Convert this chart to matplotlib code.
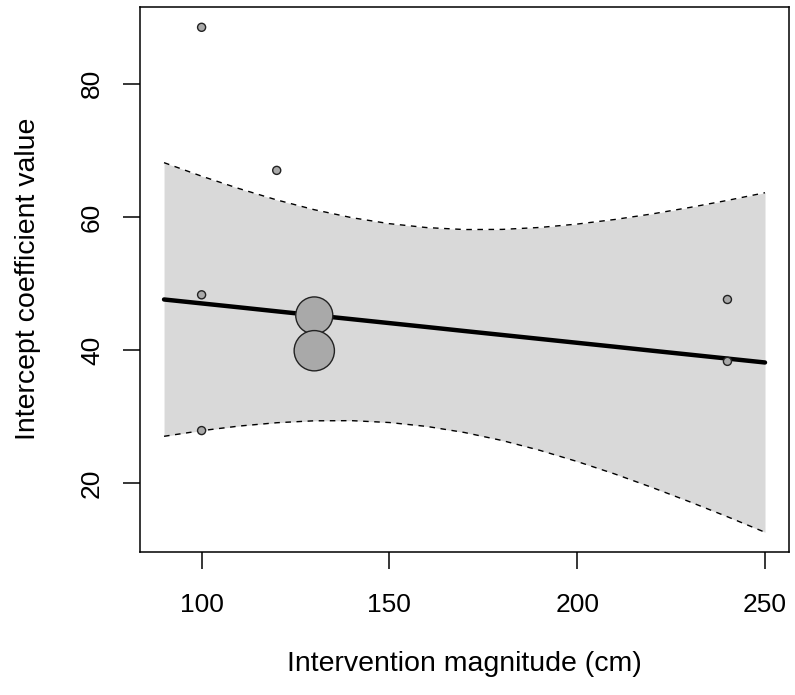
import matplotlib
matplotlib.use("Agg")
import matplotlib.pyplot as plt
import numpy as np

plt.rcParams['font.family'] = ['Liberation Sans', 'DejaVu Sans']

# study points (intervention magnitude, intercept coefficient) and relative bubble size
study_x = [100, 120, 100, 100, 130, 130, 240, 240]
study_y = [88.5, 67.0, 48.3, 27.9, 45.2, 39.9, 47.6, 38.3]
study_size = [1.0, 1.0, 1.0, 1.0, 4.6, 5.0, 1.0, 1.0]

# fitted line and confidence band
band_x = [90, 100, 110, 120, 130, 140, 150, 160, 170, 180, 190, 200, 210, 220, 230, 240, 250]
band_pred = [47.60, 47.01, 46.42, 45.82, 45.23, 44.64, 44.05, 43.46, 42.86, 42.27,
             41.68, 41.09, 40.50, 39.90, 39.31, 38.72, 38.13]
band_upper = [68.16, 66.13, 64.26, 62.56, 61.09, 59.89, 58.99, 58.40, 58.11, 58.13,
              58.42, 58.93, 59.62, 60.46, 61.43, 62.49, 63.64]
band_lower = [27.04, 27.89, 28.58, 29.08, 29.37, 29.39, 29.11, 28.52, 27.61, 26.41,
              24.94, 23.25, 21.38, 19.34, 17.19, 14.95, 12.62]

fig = plt.figure(figsize=(7.95, 6.95), dpi=100)
ax = fig.add_axes([0.1761, 0.2062, 0.8164, 0.7842])

ax.fill_between(band_x, band_lower, band_upper, color="#d9d9d9", lw=0, zorder=1)
ax.plot(band_x, band_upper, color="black", lw=1.0, ls=(0, (4, 4)), zorder=2)
ax.plot(band_x, band_lower, color="black", lw=1.0, ls=(0, (4, 4)), zorder=2)
ax.plot(band_x, band_pred, color="black", lw=3.2, solid_capstyle="round", zorder=3)

sizes = (5.8 * np.array(study_size)) ** 2
ax.scatter(study_x, study_y, s=sizes, facecolor="#a9a9a9", edgecolor="#222222",
           linewidth=1.0, zorder=4)

ax.set_xlim(83.6, 256.4)
ax.set_ylim(9.7, 91.6)
ax.set_xticks([100, 150, 200, 250])
ax.set_yticks([20, 40, 60, 80])

for s in ax.spines.values():
    s.set_linewidth(1.1)
ax.tick_params(axis="both", length=12, width=1.1, labelsize=19)
ax.tick_params(axis="x", pad=18)
ax.tick_params(axis="y", pad=14)
for lab in ax.get_yticklabels():
    lab.set_rotation(90)
    lab.set_va("center")

ax.set_xlabel("Intervention magnitude (cm)", fontsize=20.5, labelpad=24)
ax.set_ylabel("Intercept coefficient value", fontsize=20.5, labelpad=28)

fig.savefig("out.png", dpi=100)
